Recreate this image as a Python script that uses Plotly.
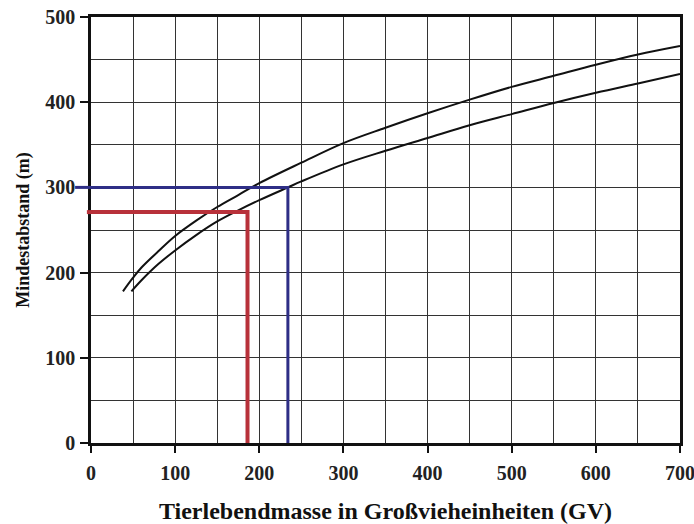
import plotly.graph_objects as go

# Data
upper_x = [38, 50, 60, 80, 100, 125, 150, 175, 200, 250, 300, 350, 400, 450, 500, 550, 600, 650, 700]
upper_y = [178, 194, 206, 225, 243, 261, 277, 291, 305, 329, 352, 370, 387, 403, 418, 431, 444, 456, 466]
lower_x = [48, 60, 80, 100, 125, 150, 175, 200, 234, 250, 300, 350, 400, 450, 500, 550, 600, 650, 700]
lower_y = [178, 191, 210, 226, 244, 260, 273, 285, 300, 307, 327, 343, 358, 373, 386, 399, 411, 422, 433]

red_x = [0, 186, 186]
red_y = [271, 271, 0]
blue_x = [0, 234, 234]
blue_y = [300, 300, 0]

x_ticks = [0, 100, 200, 300, 400, 500, 600, 700]
y_ticks = [0, 100, 200, 300, 400, 500]

x_title = "Tierlebendmasse in Großvieheinheiten (GV)"
y_title = "Mindestabstand (m)"

FONT = "Liberation Serif"
RED = "#b8313a"
BLUE = "#2e2e86"

fig = go.Figure()
fig.add_trace(go.Scatter(x=upper_x, y=upper_y, mode="lines", line=dict(color="#111111", width=2, shape="spline"), showlegend=False))
fig.add_trace(go.Scatter(x=lower_x, y=lower_y, mode="lines", line=dict(color="#111111", width=2, shape="spline"), showlegend=False))
fig.add_trace(go.Scatter(x=red_x, y=red_y, mode="lines", line=dict(color=RED, width=4), showlegend=False))
fig.add_trace(go.Scatter(x=blue_x, y=blue_y, mode="lines", line=dict(color=BLUE, width=3), showlegend=False))

# small extensions of the guide lines to the left of the y axis (as in the original)
fig.add_shape(type="line", xref="paper", yref="y", x0=-0.007, x1=0, y0=red_y[0], y1=red_y[1],
              line=dict(color=RED, width=4), layer="above")
fig.add_shape(type="line", xref="paper", yref="y", x0=-0.027, x1=0, y0=blue_y[0], y1=blue_y[1],
              line=dict(color=BLUE, width=3), layer="above")

axis_common = dict(
    showline=True, linecolor="#111111", linewidth=2.5, mirror=True,
    showgrid=True, gridcolor="#333333", gridwidth=1,
    zeroline=False, ticks="outside", tickcolor="#111111", tickwidth=2,
    tickfont=dict(family=FONT, size=20, color="#222222", weight="bold"),
    ticklabeloverflow="allow",
    automargin=False,
)

fig.update_xaxes(
    **axis_common,
    range=[0, 700], tickvals=x_ticks, ticktext=[str(v) for v in x_ticks],
    ticklen=7, ticklabelstandoff=3,
    minor=dict(dtick=50, showgrid=True, gridcolor="#333333", gridwidth=1, ticks=""),
    title=dict(text=x_title, font=dict(family=FONT, size=24, color="#111111", weight="bold"), standoff=22),
)
fig.update_yaxes(
    **axis_common,
    range=[0, 500], tickvals=y_ticks, ticktext=[str(v) for v in y_ticks],
    ticklen=8, ticklabelstandoff=1,
    minor=dict(dtick=50, showgrid=True, gridcolor="#333333", gridwidth=1, ticks=""),
    title=dict(text=y_title, font=dict(family=FONT, size=18, color="#111111", weight="bold"), standoff=11),
)

fig.update_layout(
    width=694, height=524,
    margin=dict(l=91, r=14, t=17, b=81),
    plot_bgcolor="white", paper_bgcolor="white",
    showlegend=False,
)

# remove the browser's default body margin so the figure sits at the page origin
fig.write_html("out.html", config={"displayModeBar": False},
               post_script="document.body.style.margin='0';document.body.style.overflow='hidden';")
